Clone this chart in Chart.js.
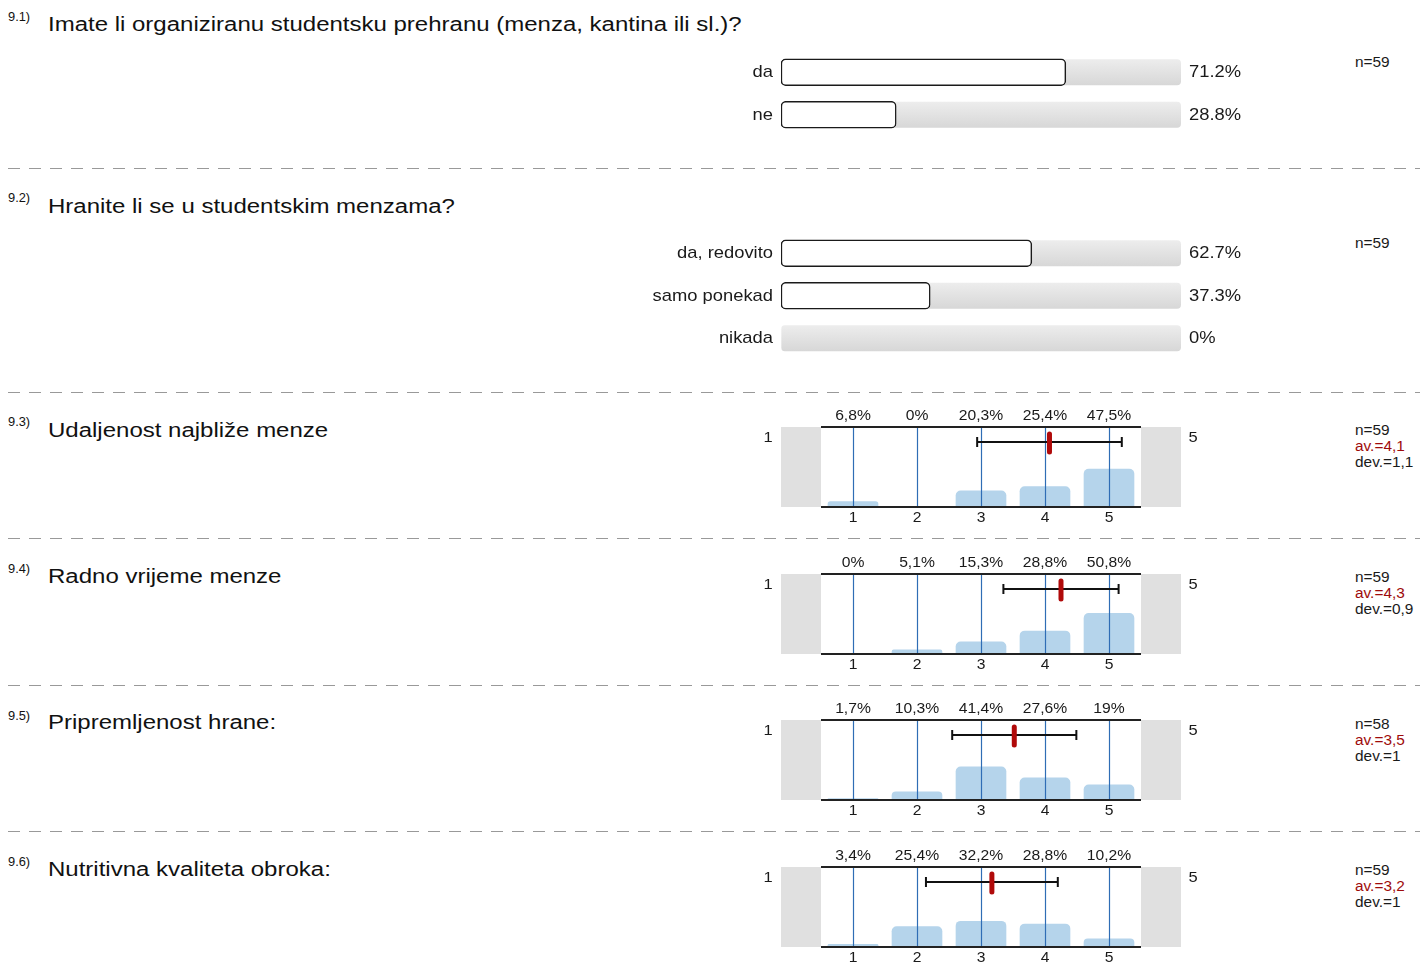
<!DOCTYPE html>
<html>
<head>
<meta charset="utf-8">
<script src="https://cdn.jsdelivr.net/npm/chart.js@4.4.1/dist/chart.umd.min.js"></script>
<style>
  body { margin: 0; background: #fff; width: 1420px; height: 962px; position: relative; overflow: hidden;
         font-family: "Liberation Sans", Arial, sans-serif; color: #111; }
  .abs { position: absolute; white-space: nowrap; }
  .num { font-size: 12px; line-height: 12px; transform: scaleX(1.07); transform-origin: left; }
  .title { font-size: 20px; line-height: 20px; transform: scaleX(1.2); transform-origin: left; }
  .stats { font-size: 14px; line-height: 16px; transform: scaleX(1.1); transform-origin: left; color: #1a1a1a; }
  .stats .av { color: #9e0b0b; }
  .sep { position: absolute; left: 8px; width: 1412px; height: 1px;
         background: repeating-linear-gradient(90deg, #999 0 12px, transparent 12px 21px); }
  canvas { position: absolute; }
</style>
</head>
<body>
<canvas id="c1" width="700" height="110" style="left:600px;top:40px"></canvas>
<canvas id="c2" width="700" height="150" style="left:600px;top:220px"></canvas>
<canvas id="c3" width="480" height="150" style="left:740px;top:387px"></canvas>
<canvas id="c4" width="480" height="150" style="left:740px;top:534px"></canvas>
<canvas id="c5" width="480" height="150" style="left:740px;top:680px"></canvas>
<canvas id="c6" width="480" height="150" style="left:740px;top:827px"></canvas>
<script>
const questionNums = ['9.1)', '9.2)', '9.3)', '9.4)', '9.5)', '9.6)'];
const questionTitles = [
  'Imate li organiziranu studentsku prehranu (menza, kantina ili sl.)?',
  'Hranite li se u studentskim menzama?',
  'Udaljenost najbliže menze',
  'Radno vrijeme menze',
  'Pripremljenost hrane:',
  'Nutritivna kvaliteta obroka:'
];
const questionN = [59, 59, 59, 59, 58, 59];

const q1Labels = ['da', 'ne'];
const q1Values = [71.2, 28.8];
const q2Labels = ['da, redovito', 'samo ponekad', 'nikada'];
const q2Values = [62.7, 37.3, 0];

const scaleTicks = [1, 2, 3, 4, 5];
const q3Values = [6.8, 0, 20.3, 25.4, 47.5];
const q4Values = [0, 5.1, 15.3, 28.8, 50.8];
const q5Values = [1.7, 10.3, 41.4, 27.6, 19];
const q6Values = [3.4, 25.4, 32.2, 28.8, 10.2];
const likertMeans = [4.07, 4.25, 3.52, 3.17];
const likertDevs = [1.13, 0.9, 0.97, 1.03];

// page layout (px)
const titleTops = [14, 196, 420, 566, 712, 859];
const numTops = [11, 192, 416, 563, 710, 856];
const statTops = [54, 235, 422, 569, 716, 862];
const sepTops = [168, 392, 538, 685, 831];

function addDiv(cls, html, left, top) {
  const d = document.createElement('div');
  d.className = 'abs ' + cls;
  d.innerHTML = html;
  d.style.left = left + 'px';
  d.style.top = top + 'px';
  document.body.appendChild(d);
}
const comma = v => String(Number(v.toFixed(1))).replace('.', ',');

questionTitles.forEach((t, i) => {
  addDiv('num', questionNums[i], 8, numTops[i]);
  addDiv('title', t, 48, titleTops[i]);
  let s = 'n=' + questionN[i];
  if (i >= 2) s += '<br><span class="av">av.=' + comma(likertMeans[i - 2]) + '</span><br>dev.=' + comma(likertDevs[i - 2]);
  addDiv('stats', s, 1355, statTops[i]);
});
sepTops.forEach(t => {
  const d = document.createElement('div');
  d.className = 'sep';
  d.style.top = t + 'px';
  document.body.appendChild(d);
});

function stretchText(ctx, text, x, y, align, sx) {
  ctx.save();
  ctx.translate(x, y);
  ctx.scale(sx, 1);
  ctx.textAlign = align;
  ctx.fillText(text, 0, 0);
  ctx.restore();
}

const trackPlugin = {
  id: 'track',
  beforeDatasetsDraw(chart) {
    const { ctx, scales: { x, y } } = chart;
    const left = x.getPixelForValue(0), right = x.getPixelForValue(100);
    chart.data.labels.forEach((l, i) => {
      const cy = y.getPixelForValue(i);
      const g = ctx.createLinearGradient(0, cy - 13, 0, cy + 13);
      g.addColorStop(0, '#ededed');
      g.addColorStop(1, '#d7d7d7');
      ctx.fillStyle = g;
      ctx.beginPath();
      ctx.roundRect(left, cy - 13, right - left, 26, 4);
      ctx.fill();
    });
  },
  afterDatasetsDraw(chart) {
    const { ctx, scales: { x, y } } = chart;
    const vals = chart.data.datasets[0].data;
    ctx.font = '17px "Liberation Sans", Arial, sans-serif';
    ctx.fillStyle = '#1a1a1a';
    ctx.textBaseline = 'middle';
    chart.data.labels.forEach((l, i) => {
      const cy = y.getPixelForValue(i) + 0.5;
      stretchText(ctx, l, x.getPixelForValue(0) - 8, cy, 'right', 1.08);
      stretchText(ctx, vals[i] + '%', x.getPixelForValue(100) + 8, cy, 'left', 1.08);
    });
  }
};

function choiceChart(id, labels, values, padTop, padBottom) {
  new Chart(document.getElementById(id), {
    type: 'bar',
    data: {
      labels,
      datasets: [{
        data: values,
        backgroundColor: '#ffffff',
        borderColor: '#1a1a1a',
        borderWidth: c => (c.raw > 0 ? 1.5 : 0),
        borderRadius: 5,
        borderSkipped: false,
        barThickness: 27
      }]
    },
    options: {
      indexAxis: 'y',
      responsive: false,
      animation: false,
      events: [],
      layout: { padding: { left: 181, right: 119, top: padTop, bottom: padBottom } },
      plugins: { legend: { display: false }, tooltip: { enabled: false } },
      scales: {
        x: { type: 'linear', min: 0, max: 100, display: false },
        y: { display: false }
      }
    },
    plugins: [trackPlugin]
  });
}

const likertPlugin = {
  id: 'likert',
  beforeDatasetsDraw(chart) {
    const { ctx, chartArea: a, scales: { x } } = chart;
    const lo = x.getPixelForValue(0.5), hi = x.getPixelForValue(5.5);
    ctx.fillStyle = '#e0e0e0';
    ctx.fillRect(a.left, a.top, lo - a.left, a.bottom - a.top);
    ctx.fillRect(hi, a.top, a.right - hi, a.bottom - a.top);
  },
  afterDatasetsDraw(chart, args, opts) {
    const { ctx, chartArea: a, scales: { x } } = chart;
    const lo = x.getPixelForValue(0.5), hi = x.getPixelForValue(5.5);
    const seg = (x1, y1, x2, y2) => { ctx.beginPath(); ctx.moveTo(x1, y1); ctx.lineTo(x2, y2); ctx.stroke(); };

    ctx.save();
    ctx.strokeStyle = '#2f6db5';
    ctx.lineWidth = 1.2;
    scaleTicks.forEach(t => {
      const px = Math.round(x.getPixelForValue(t)) + 0.5;
      seg(px, a.top, px, a.bottom);
    });
    ctx.strokeStyle = '#222';
    ctx.lineWidth = 2;
    seg(lo, a.top, hi, a.top);
    seg(lo, a.bottom, hi, a.bottom);

    ctx.fillStyle = '#1a1a1a';
    ctx.textBaseline = 'middle';
    ctx.font = '14px "Liberation Sans", Arial, sans-serif';
    scaleTicks.forEach((t, i) => {
      const px = x.getPixelForValue(t);
      stretchText(ctx, String(opts.values[i]).replace('.', ',') + '%', px, a.top - 10.5, 'center', 1.12);
      stretchText(ctx, String(t), px, a.bottom + 11, 'center', 1.12);
    });
    ctx.font = '15px "Liberation Sans", Arial, sans-serif';
    stretchText(ctx, String(scaleTicks[0]), a.left - 13, a.top + 11, 'center', 1.1);
    stretchText(ctx, String(scaleTicks[scaleTicks.length - 1]), a.right + 12, a.top + 11, 'center', 1.1);

    // deviation bar
    const ey = a.top + 15;
    const x1 = x.getPixelForValue(opts.mean - opts.dev), x2 = x.getPixelForValue(opts.mean + opts.dev);
    ctx.strokeStyle = '#111';
    ctx.lineWidth = 2;
    seg(x1, ey, x2, ey);
    seg(x1, ey - 5, x1, ey + 5);
    seg(x2, ey - 5, x2, ey + 5);

    // mean marker
    const mx = x.getPixelForValue(opts.mean);
    ctx.strokeStyle = '#b00a0a';
    ctx.lineWidth = 5;
    ctx.lineCap = 'round';
    seg(mx, a.top + 7, mx, a.top + 25);
    ctx.restore();
  }
};

function likertChart(id, values, mean, dev) {
  new Chart(document.getElementById(id), {
    type: 'bar',
    data: {
      datasets: [{
        data: scaleTicks.map((t, i) => ({ x: t, y: values[i] })),
        backgroundColor: '#b5d4eb',
        borderWidth: 0,
        borderRadius: { topLeft: 5, topRight: 5, bottomLeft: 0, bottomRight: 0 },
        barThickness: 50
      }]
    },
    options: {
      responsive: false,
      animation: false,
      events: [],
      layout: { padding: { left: 41, right: 39, top: 40, bottom: 30 } },
      plugins: { legend: { display: false }, tooltip: { enabled: false }, likert: { values, mean, dev } },
      scales: {
        x: { type: 'linear', min: -0.125, max: 6.125, offset: false, display: false },
        y: { min: 0, max: 100, display: false }
      }
    },
    plugins: [likertPlugin]
  });
}

choiceChart('c1', q1Labels, q1Values, 11, 14);
choiceChart('c2', q2Labels, q2Values, 12, 10.5);
likertChart('c3', q3Values, likertMeans[0], likertDevs[0]);
likertChart('c4', q4Values, likertMeans[1], likertDevs[1]);
likertChart('c5', q5Values, likertMeans[2], likertDevs[2]);
likertChart('c6', q6Values, likertMeans[3], likertDevs[3]);
</script>
</body>
</html>
